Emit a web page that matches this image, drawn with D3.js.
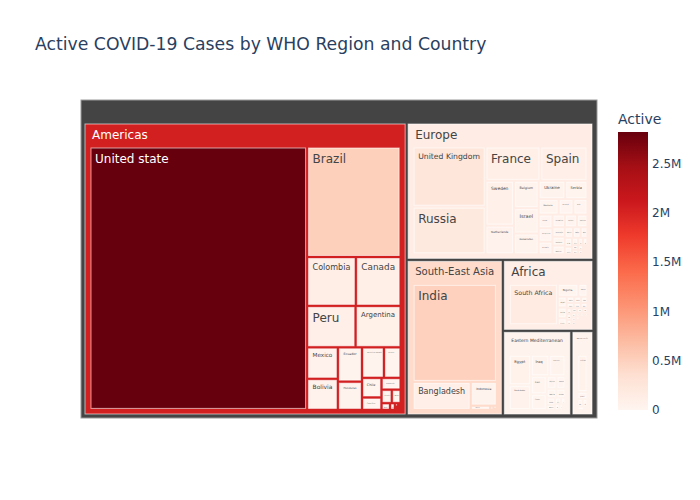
<!DOCTYPE html>
<html><head><meta charset="utf-8">
<script src="https://cdn.jsdelivr.net/npm/d3@7"></script>
<style>html,body{margin:0;padding:0;background:#fff}svg{display:block}text{font-family:"DejaVu Sans",Verdana,sans-serif}</style>
</head><body><svg id="c" width="700" height="500"></svg>
<script>
const chartTitle = "Active COVID-19 Cases by WHO Region and Country";
const legendTitle = "Active";
const regionNames = ["Americas","Europe","South-East Asia","Africa","Eastern Mediterranean","Western Pacific"];

const americasCountries = ["United state","Brazil","Colombia","Canada","Peru","Argentina","Mexico","Bolivia","Ecuador","Honduras","Dominican Republic","Panama","Chile","Costa Rica","Guatemala","El Salvador","Venezuela","Haiti","Paraguay","Suriname","Nicaragua","Bahamas","Uruguay","Guyana","Jamaica","Cuba","Belize","Trinidad and Tobago","Barbados"];
const americasActive = [2816444,508116,117163,107514,98752,91782,47657,47056,40733,33536,32869,25034,18782,11902,11093,6849,5883,2817,1600,534,418,280,216,188,129,94,20,12,9];

const europeCountries = ["United Kingdom","Russia","France","Spain","Sweden","Netherlands","Belgium","Israel","Kazakhstan","Ukraine","Serbia","Romania","Portugal","Italy","Turkey","Kyrgyzstan","Armenia","Uzbekistan","Poland","Germany","Azerbaijan","Moldova","Belarus","Bosnia and Herzegovina","Bulgaria","North Macedonia","Czechia","Kosovo","Greece","Montenegro","Albania","Switzerland","Austria","Luxembourg","Tajikistan","Ireland","Denmark","Hungary","Croatia","Finland","Norway"];
const europeActive = [254427,201097,108928,93613,73695,47064,39154,36378,29659,28258,23598,17902,13205,12581,10920,10790,10014,9158,8870,7673,6781,6252,6221,5074,4689,4183,3715,3201,2651,2039,1991,1599,1599,1384,1147,764,543,523,422,149,20];

const seAsiaCountries = ["India","Bangladesh","Indonesia","Nepal","Maldives","Sri Lanka","Thailand","Myanmar","Timor-Leste","Bhutan"];
const seAsiaActive = [495499,97577,37292,4950,807,673,128,52,24,13];

const africaCountries = ["South Africa","Nigeria","Kenya","Algeria","Ethiopia","Cote d'Ivoire","Morocco","Ghana","Madagascar","Senegal","Central African Republic","DR Congo","Gabon","Congo","Cameroon","Equatorial Guinea","Zimbabwe","Malawi","Namibia","Zambia","Mauritania","Eswatini","Guinea-Bissau","Mozambique","South Sudan","Rwanda","Cabo Verde","Guinea","Benin","Botswana","Angola","Mali","Liberia","Sierra Leone","Lesotho","Tanzania","Gambia","Togo","Uganda","Burkina Faso","Sao Tome","Burundi","Seychelles","Chad","Niger"];
const africaActive = [170537,22117,9857,7973,7933,5198,4018,3655,3339,3093,2994,2936,2458,2317,2180,2178,2126,1920,1734,1597,1399,1257,1125,1116,1084,899,756,753,699,674,667,473,449,400,365,305,252,249,140,121,117,76,75,37,36];

const easternMedCountries = ["Egypt","Saudi Arabia","Iraq","Pakistan","Iran","Oman","Afghanistan","Kuwait","West Bank and Gaza","United Arab Emirates","Sudan","Bahrain","Qatar","Libya","Lebanon","Somalia","Yemen","Syria","Tunisia","Jordan","Djibouti"];
const easternMedActive = [52992,43238,30983,27421,22550,19637,9796,8884,6791,6322,4765,3231,3104,2186,2122,1560,375,350,248,124,24];

const westPacCountries = ["Philippines","Japan","Australia","Singapore","China","South Korea","Malaysia","Mongolia","Vietnam","Papua New Guinea","New Zealand","Fiji"];
const westPacActive = [53649,10174,5825,5119,3258,896,510,70,60,50,22,9];

const regionCountries = [americasCountries,europeCountries,seAsiaCountries,africaCountries,easternMedCountries,westPacCountries];
const regionActive = [americasActive,europeActive,seAsiaActive,africaActive,easternMedActive,westPacActive];

const scaleStops = ["rgb(255,245,240)","rgb(254,224,210)","rgb(252,187,161)","rgb(252,146,114)","rgb(251,106,74)","rgb(239,59,44)","rgb(203,24,29)","rgb(165,15,21)","rgb(103,0,13)"];
const tickValues = [0,500000,1000000,1500000,2000000,2500000];
const tickLabels = ["0","0.5M","1M","1.5M","2M","2.5M"];

const svg = d3.select("#c");
const defs = svg.append("defs");
const plot = {x:81,y:100,w:516,h:318};
const maxV = d3.max(americasActive);
const color = d3.scaleLinear().domain(scaleStops.map((_,i)=>i/(scaleStops.length-1)*maxV)).range(scaleStops).interpolate(d3.interpolateRgb);

const tree = {name:"World",children:regionNames.map((n,i)=>({name:n,children:regionCountries[i].map((c,j)=>({name:c,value:regionActive[i][j]}))}))};
const root = d3.hierarchy(tree).sum(d=>d.value||0).sort((a,b)=>b.value-a.value);
d3.treemap().tile(d3.treemapSquarify.ratio(1)).size([plot.w,plot.h])
  .paddingInner(3).paddingLeft(d=>d.depth?6:4).paddingRight(d=>d.depth?6:5)
  .paddingBottom(d=>d.depth?5.6:4).paddingTop(24)(root);

root.each(d=>{ if(d.children){ d.colorValue=d3.sum(d.leaves(),l=>l.value*l.value)/d.value; } else d.colorValue=d.value; });

const g = svg.append("g").attr("transform",`translate(${plot.x},${plot.y})`);
const nodes = root.descendants();
nodes.forEach((d,i)=>{ d.clipId="cl"+i; });
defs.selectAll("clipPath").data(nodes).join("clipPath").attr("id",d=>d.clipId).append("rect")
  .attr("x",d=>d.x0).attr("y",d=>d.y0).attr("width",d=>d.x1-d.x0).attr("height",d=>d.y1-d.y0);
const cells = g.selectAll("g.cell").data(nodes).join("g").attr("class","cell");
cells.append("rect").attr("x",d=>d.x0).attr("y",d=>d.y0)
  .attr("width",d=>d.x1-d.x0).attr("height",d=>d.y1-d.y0)
  .attr("fill",d=>d.depth===0?"#444":color(d.colorValue))
  .attr("stroke",d=>d.depth===0?"#999":"rgba(255,255,255,0.6)").attr("stroke-width",1);

function lum(c){const r=d3.rgb(c);return (0.299*r.r+0.587*r.g+0.114*r.b);}
cells.filter(d=>d.depth>0).append("text").text(d=>d.data.name)
  .attr("clip-path",d=>`url(#${d.clipId})`)
  .attr("fill",d=>lum(color(d.colorValue))<140?"#fff":"#444")
  .attr("font-size",12).each(function(d){
    const hdr=!!d.children, w=d.x1-d.x0, h=d.y1-d.y0;
    const tw=this.getComputedTextLength();
    const availW=hdr?w-14:w-8, availH=hdr?22:h-6;
    const fs=Math.max(1.5,12*Math.min(1,availW/tw,availH/13));
    const left=hdr?7:4;
    d3.select(this).attr("font-size",fs).attr("x",d.x0+Math.min(left,w*0.2)).attr("y",d.y0+(hdr?5.7+0.78*fs:Math.min(3+fs,h)));
  });

svg.append("text").attr("x",35).attr("y",50).attr("font-size",17.25).attr("fill","#2a3f5f").text(chartTitle);

const grad = defs.append("linearGradient").attr("id","cb").attr("x1",0).attr("y1",1).attr("x2",0).attr("y2",0);
scaleStops.forEach((s,i)=>grad.append("stop").attr("offset",i/(scaleStops.length-1)).attr("stop-color",s));
const cbY = d3.scaleLinear().domain([0,maxV]).range([410,132]);
svg.append("rect").attr("x",618).attr("y",132).attr("width",30).attr("height",278).attr("fill","url(#cb)");
const axis = d3.axisRight(cbY).tickValues(tickValues).tickSize(0).tickPadding(4).tickFormat((d,i)=>tickLabels[i]);
const ax = svg.append("g").attr("transform","translate(648,0)").call(axis);
ax.select(".domain").remove();
ax.selectAll("text").attr("font-size",12).attr("font-family",'"DejaVu Sans",Verdana,sans-serif').attr("fill","#2a3f5f");
svg.append("text").attr("x",618).attr("y",124).attr("font-size",14).attr("fill","#2a3f5f").text(legendTitle);
</script></body></html>
